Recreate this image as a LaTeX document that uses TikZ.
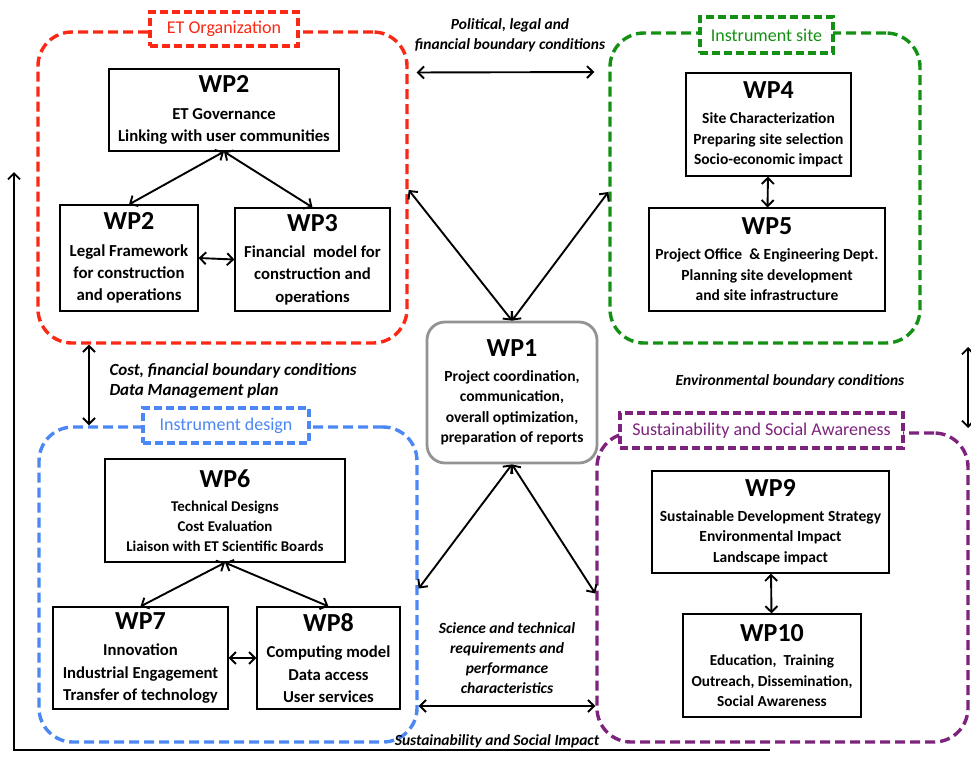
\documentclass[tikz,border=0pt]{standalone}
\usepackage{fontspec}
\setmainfont{Carlito}
\usetikzlibrary{arrows.meta, positioning}

\definecolor{orgred}{RGB}{250,40,20}
\definecolor{sitegreen}{RGB}{20,145,20}
\definecolor{designblue}{RGB}{75,135,245}
\definecolor{awarepurple}{RGB}{125,35,125}

\newcommand{\wptitle}[1]{{\fontsize{26}{26}\selectfont #1}\\[4pt]}

\begin{document}
\begin{tikzpicture}[
  x=1pt, y=-1pt,
  group/.style={draw=#1, dash pattern=on 10pt off 5pt, line width=3.4pt, rounded corners=34pt, inner sep=0pt},
  grouptitle/.style={draw=#1, text=#1, fill=white, dash pattern=on 8pt off 4pt, line width=3.2pt, font=\fontsize{18}{20}\selectfont, inner sep=0pt},
  wpbox/.style={draw, line width=1.2pt, fill=white, align=center, inner sep=0pt, font=\fontsize{#1}{\fpeval{1.33*#1}}\selectfont\bfseries},
  wpbox/.default=15.5,
  arrow/.style={{Straight Barb[length=6pt,width=12pt]}-{Straight Barb[length=6pt,width=12pt]}, line width=1.9pt},
  oneway/.style={-{Straight Barb[length=6pt,width=12pt]}, line width=1.9pt},
  cond/.style={font=\fontsize{#1}{20}\selectfont\bfseries\itshape, align=center},
  cond/.default=15.5,
]
  \useasboundingbox (0,0) rectangle (971,756);

  % groups
  \node[group=orgred, minimum width=369pt, minimum height=311pt] (org) at (222.5,187.5) {};
  \node[group=sitegreen, minimum width=310pt, minimum height=310pt] (site) at (765,188) {};
  \node[group=designblue, minimum width=378pt, minimum height=315pt] (design) at (228,584.5) {};
  \node[group=awarepurple, minimum width=371pt, minimum height=309pt] (aware) at (782.5,587.5) {};

  \node[grouptitle=orgred, minimum width=148pt, minimum height=34pt] (orgtitle) at (224,29) {ET Organization};
  \node[grouptitle=sitegreen, minimum width=133pt, minimum height=36pt] (sitetitle) at (766.5,35) {Instrument site};
  \node[grouptitle=designblue, minimum width=166pt, minimum height=35pt] (designtitle) at (226,425.5) {Instrument design};
  \node[grouptitle=awarepurple, minimum width=283pt, minimum height=35pt] (awaretitle) at (761.5,430.5) {Sustainability and Social Awareness};

  % work packages
  \node[wpbox=16.7, minimum width=230pt, minimum height=82pt] (wp2gov) at (224,110) {\wptitle{WP2}ET Governance\\Linking with user communities};
  \node[wpbox=16.8, minimum width=138pt, minimum height=106pt] (wp2legal) at (129,258) {\wptitle{WP2}Legal Framework\\for construction\\and operations};
  \node[wpbox=16.7, minimum width=155pt, minimum height=103pt] (wp3) at (312.5,259.5) {\wptitle{WP3}Financial\ \ model for\\construction and\\operations};
  \node[wpbox, minimum width=165pt, minimum height=103pt] (wp4) at (768.5,124.5) {\wptitle{WP4}Site Characterization\\Preparing site selection\\Socio-economic impact};
  \node[wpbox, minimum width=236pt, minimum height=103pt] (wp5) at (767,259.5) {\wptitle{WP5}Project Office\ \ \& Engineering Dept.\\Planning site development\\and site infrastructure};
  \node[wpbox, draw=gray!85, line width=2.8pt, rounded corners=18pt, minimum width=170pt, minimum height=141pt] (wp1) at (512,392.5) {\wptitle{WP1}Project coordination,\\communication,\\overall optimization,\\preparation of reports};
  \node[wpbox=14.9, minimum width=240pt, minimum height=103pt] (wp6) at (225,510.5) {\wptitle{WP6}Technical Designs\\Cost Evaluation\\Liaison with ET Scientific Boards};
  \node[wpbox=16.7, minimum width=175pt, minimum height=102pt] (wp7) at (140.5,658) {\wptitle{WP7}Innovation\\Industrial Engagement\\Transfer of technology};
  \node[wpbox=16.7, minimum width=143pt, minimum height=102pt] (wp8) at (328.5,658) {\wptitle{WP8}Computing model\\Data access\\User services};
  \node[wpbox, minimum width=237pt, minimum height=102pt] (wp9) at (770.5,522) {\wptitle{WP9}Sustainable Development Strategy\\Environmental Impact\\Landscape impact};
  \node[wpbox=15.3, minimum width=178pt, minimum height=103pt] (wp10) at (772,665.5) {\wptitle{WP10}Education,\ \ Training\\Outreach, Dissemination,\\Social Awareness};

  % boundary conditions
  \node[cond] (political) at (510,35) {Political, legal and\\financial boundary conditions};
  \node[cond=17, align=left, anchor=west] (cost) at (106,381) {Cost, financial boundary conditions\\Data Management plan};
  \node[cond] (environment) at (790,381) {Environmental boundary conditions};
  \node[cond] (science) at (507,658) {Science and technical\\requirements and\\performance\\characteristics};
  \node[cond] (impact) at (497,741) {Sustainability and Social Impact};

  \coordinate (envtop) at (968,347);
  \coordinate (envbot) at (968,428);
  \coordinate (impstart) at (770,750);
  \coordinate (impend) at (14,172);

  % inner links
  \draw[arrow] (wp2gov.south) -- (wp2legal.north);
  \draw[arrow] (wp2gov.south) -- (wp3.north);
  \draw[arrow] (wp2legal.east) -- (wp3.west);
  \draw[arrow] (wp4) -- (wp5);
  \draw[arrow] (wp6.south) -- (wp7.north);
  \draw[arrow] (wp6.south) -- (wp8.north);
  \draw[arrow] (wp7) -- (wp8);
  \draw[arrow] (wp9) -- (wp10);

  % links between groups
  \draw[arrow, shorten <=8pt, shorten >=14pt] ([yshift=115pt]org.east) -- ([yshift=116pt]site.west);
  \draw[arrow] ([yshift=-2.5pt]org.east) -- (wp1.north);
  \draw[arrow] ([yshift=-4pt]site.west) -- (wp1.north);
  \draw[arrow] (wp1.south) -- ([yshift=-4pt]design.east);
  \draw[arrow] (wp1.south) -- ([yshift=-6pt]aware.west);
  \draw[arrow] ([yshift=-121.5pt]design.east) -- ([yshift=-118.5pt]aware.west);
  \draw[arrow] ([xshift=-133.5pt]org.south) -- ([xshift=-139pt]design.north);
  \draw[arrow] (envtop) -- (envbot);
  \draw[oneway] (impstart) -| (impend);
\end{tikzpicture}
\end{document}
